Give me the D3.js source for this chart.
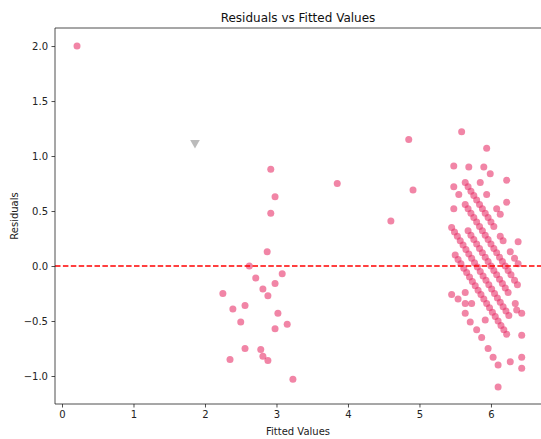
<!DOCTYPE html>
<html>
<head>
<meta charset="utf-8">
<script src="https://cdn.jsdelivr.net/npm/d3@7"></script>
<style>
  body { margin: 0; background: #fff; }
  svg { font-family: "DejaVu Sans", sans-serif; }
</style>
</head>
<body>
<div id="chart"></div>
<script>
// [fitted, residual] pairs
const farPoint = [[0.21, 2.00]];

const midPoints = [
  [2.92, 0.88], [2.98, 0.63], [2.92, 0.48], [2.87, 0.13], [2.62, 0.00],
  [2.71, -0.11], [3.08, -0.07], [2.25, -0.25], [2.81, -0.21], [2.88, -0.27],
  [2.98, -0.16], [2.39, -0.39], [2.56, -0.36], [2.50, -0.51], [3.02, -0.43],
  [3.15, -0.53], [2.98, -0.57], [2.56, -0.75], [2.78, -0.76], [2.81, -0.82],
  [2.88, -0.86], [2.35, -0.85], [3.23, -1.03],
  [3.85, 0.75], [4.85, 1.15], [4.91, 0.69], [4.60, 0.41]
];

const upperCluster = [
  [5.59, 1.22], [5.94, 1.07], [5.48, 0.91], [5.69, 0.90], [5.90, 0.90],
  [5.99, 0.84], [6.22, 0.78], [6.22, 0.58], [5.85, 0.76], [5.94, 0.65],
  [6.08, 0.52], [6.13, 0.47], [6.38, 0.22]
];

const band64 = [
  [5.64, 0.76], [5.68, 0.72], [5.72, 0.68], [5.76, 0.64], [5.80, 0.60],
  [5.84, 0.56], [5.88, 0.52], [5.92, 0.48], [5.96, 0.44], [6.00, 0.40],
  [6.04, 0.36], [6.13, 0.27], [6.17, 0.23], [6.27, 0.13], [6.33, 0.07],
  [6.38, 0.02]
];

const band62 = [
  [5.48, 0.72], [5.55, 0.65], [5.64, 0.56], [5.68, 0.52], [5.72, 0.48],
  [5.76, 0.44], [5.80, 0.40], [5.84, 0.36], [5.88, 0.32], [5.92, 0.28],
  [5.96, 0.24], [6.00, 0.20], [6.04, 0.16], [6.08, 0.12], [6.12, 0.08],
  [6.16, 0.04], [6.20, 0.00], [6.24, -0.04], [6.28, -0.08], [6.33, -0.13],
  [6.37, -0.17]
];

const band60 = [
  [5.48, 0.52], [5.68, 0.32], [5.72, 0.28], [5.76, 0.24], [5.80, 0.20],
  [5.84, 0.16], [5.88, 0.12], [5.92, 0.08], [5.96, 0.04], [6.00, 0.00],
  [6.04, -0.04], [6.08, -0.08], [6.12, -0.12], [6.16, -0.16], [6.20, -0.20],
  [6.24, -0.24], [6.34, -0.34], [6.43, -0.43]
];

const band58 = [
  [5.45, 0.35], [5.49, 0.31], [5.53, 0.27], [5.57, 0.23], [5.61, 0.19],
  [5.65, 0.15], [5.69, 0.11], [5.73, 0.07], [5.77, 0.03], [5.81, -0.01],
  [5.85, -0.05], [5.89, -0.09], [5.93, -0.13], [5.97, -0.17], [6.01, -0.21],
  [6.05, -0.25], [6.09, -0.29], [6.13, -0.33], [6.17, -0.37], [6.21, -0.41],
  [6.25, -0.45], [6.43, -0.63]
];

const band56 = [
  [5.50, 0.10], [5.54, 0.06], [5.58, 0.02], [5.62, -0.02], [5.66, -0.06],
  [5.70, -0.10], [5.74, -0.14], [5.78, -0.18], [5.82, -0.22], [5.86, -0.26],
  [5.90, -0.30], [5.94, -0.34], [5.98, -0.38], [6.02, -0.42], [6.06, -0.46],
  [6.10, -0.50], [6.14, -0.54], [6.18, -0.58], [6.22, -0.62], [6.43, -0.83]
];

const lowerCluster = [
  [5.45, -0.26], [5.54, -0.30], [5.64, -0.34], [5.64, -0.24], [5.73, -0.34],
  [5.64, -0.43], [5.71, -0.51], [5.80, -0.58], [5.87, -0.65], [5.92, -0.49],
  [5.96, -0.75], [6.03, -0.83], [6.10, -0.90], [6.27, -0.87], [6.43, -0.93],
  [6.10, -1.10], [6.36, -0.40]
];

// the faint grey triangle near the top left
const greyMarker = [[1.86, 1.12]];

const xTicks = [0, 1, 2, 3, 4, 5, 6];
const yTicks = [-1.0, -0.5, 0.0, 0.5, 1.0, 1.5, 2.0];

const w = 541;
const h = 439;
const padLeft = 55, padTop = 28, padRight = 541, padBottom = 404;

const xScale = d3.scaleLinear()
  .domain([-0.098, 6.70])
  .range([padLeft, padRight]);

const yScale = d3.scaleLinear()
  .domain([-1.2545, 2.164])
  .range([padBottom, padTop]);

const svg = d3.select("#chart")
  .append("svg")
  .attr("width", w)
  .attr("height", h);

svg.append("rect")
  .attr("width", w).attr("height", h)
  .attr("fill", "#fff");

const allPoints = [].concat(farPoint, midPoints, upperCluster, band64, band62,
  band60, band58, band56, lowerCluster);

svg.append("g")
  .selectAll("circle")
  .data(allPoints)
  .enter()
  .append("circle")
  .attr("cx", d => xScale(d[0]))
  .attr("cy", d => yScale(d[1]))
  .attr("r", 3.5)
  .attr("fill", "#e8336b")
  .attr("fill-opacity", 0.6);

svg.append("g")
  .selectAll("path")
  .data(greyMarker)
  .enter()
  .append("path")
  .attr("d", d3.symbol(d3.symbolTriangle, 40))
  .attr("transform", d => "translate(" + xScale(d[0]) + "," + yScale(d[1]) + ") rotate(180)")
  .attr("fill", "#aaa")
  .attr("opacity", 0.8);

// zero line
svg.append("line")
  .attr("x1", padLeft).attr("x2", padRight)
  .attr("y1", yScale(0)).attr("y2", yScale(0))
  .attr("stroke", "red")
  .attr("stroke-width", 1.5)
  .attr("stroke-dasharray", "5.5,2.4");

// axes
const xAxis = d3.axisBottom(xScale)
  .tickValues(xTicks)
  .tickFormat(d3.format("d"))
  .tickSizeOuter(0)
  .tickSize(3.5)
  .tickPadding(3.5);

const yAxis = d3.axisLeft(yScale)
  .tickValues(yTicks)
  .tickFormat(d3.format(".1f"))
  .tickSizeOuter(0)
  .tickSize(3.5)
  .tickPadding(3.5);

const gx = svg.append("g")
  .attr("transform", "translate(0," + padBottom + ")")
  .call(xAxis);

const gy = svg.append("g")
  .attr("transform", "translate(" + padLeft + ",0)")
  .call(yAxis);

[gx, gy].forEach(g => {
  g.select(".domain").remove();
  g.selectAll("line").attr("stroke", "#222").attr("stroke-width", 0.8);
  g.selectAll("text")
    .attr("fill", "#222")
    .style("font-size", "10px")
    .style("font-family", "DejaVu Sans, sans-serif");
});

// spines
svg.append("path")
  .attr("d", "M" + padLeft + "," + padTop + "H" + padRight + "M" + padLeft + "," + padTop + "V" + padBottom + "H" + padRight)
  .attr("fill", "none")
  .attr("stroke", "#222")
  .attr("stroke-width", 0.8);

// title and labels
svg.append("text")
  .attr("x", (padLeft + padRight) / 2)
  .attr("y", 22)
  .attr("text-anchor", "middle")
  .style("font-size", "12px")
  .attr("fill", "#111")
  .text("Residuals vs Fitted Values");

svg.append("text")
  .attr("x", (padLeft + padRight) / 2)
  .attr("y", 435)
  .attr("text-anchor", "middle")
  .style("font-size", "10px")
  .attr("fill", "#222")
  .text("Fitted Values");

svg.append("text")
  .attr("transform", "translate(18," + ((padTop + padBottom) / 2) + ") rotate(-90)")
  .attr("text-anchor", "middle")
  .style("font-size", "10px")
  .attr("fill", "#222")
  .text("Residuals");
</script>
</body>
</html>
